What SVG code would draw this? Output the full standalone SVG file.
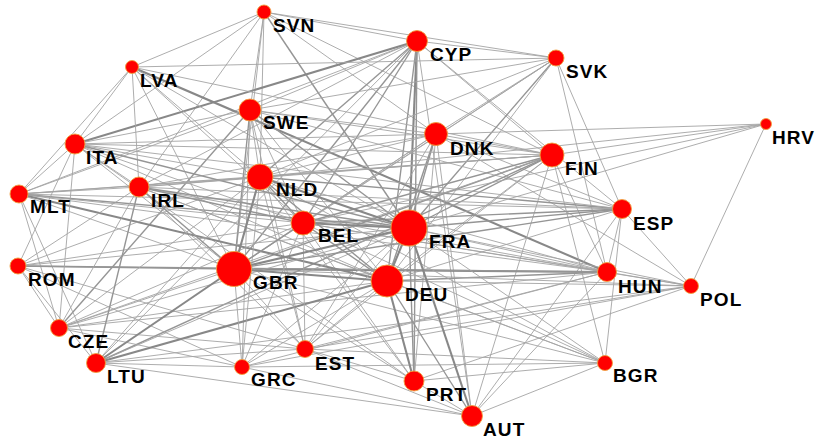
<svg xmlns="http://www.w3.org/2000/svg" width="821" height="442" viewBox="0 0 821 442">
<style>
.e1{stroke:#a4a4a4;stroke-width:0.9;fill:none}
.e2{stroke:#959595;stroke-width:1.4;fill:none}
.e3{stroke:#888888;stroke-width:2.1;fill:none}
.n circle{fill:#ff0000;stroke:#f0a040;stroke-width:0.9}
.n text{font-family:"Liberation Sans",Arial,sans-serif;font-weight:bold;font-size:19px;letter-spacing:1.1px;fill:#000}
</style>
<rect width="821" height="442" fill="#fff"/>
<g id="connectors">
<line class="e1" x1="264" y1="12" x2="417" y2="41"/>
<line class="e1" x1="264" y1="12" x2="556" y2="58"/>
<line class="e1" x1="264" y1="12" x2="552" y2="155"/>
<line class="e1" x1="264" y1="12" x2="436" y2="134"/>
<line class="e2" x1="264" y1="12" x2="409" y2="228"/>
<line class="e1" x1="264" y1="12" x2="260" y2="177"/>
<line class="e1" x1="264" y1="12" x2="250" y2="110"/>
<line class="e1" x1="264" y1="12" x2="234" y2="269"/>
<line class="e1" x1="264" y1="12" x2="132" y2="67"/>
<line class="e1" x1="264" y1="12" x2="75" y2="144"/>
<line class="e1" x1="264" y1="12" x2="139" y2="187"/>
<line class="e1" x1="417" y1="41" x2="556" y2="58"/>
<line class="e1" x1="417" y1="41" x2="250" y2="110"/>
<line class="e3" x1="417" y1="41" x2="75" y2="144"/>
<line class="e2" x1="417" y1="41" x2="260" y2="177"/>
<line class="e1" x1="417" y1="41" x2="139" y2="187"/>
<line class="e2" x1="417" y1="41" x2="303" y2="223"/>
<line class="e2" x1="417" y1="41" x2="234" y2="269"/>
<line class="e3" x1="417" y1="41" x2="409" y2="228"/>
<line class="e2" x1="417" y1="41" x2="387" y2="281"/>
<line class="e2" x1="417" y1="41" x2="414" y2="381"/>
<line class="e1" x1="417" y1="41" x2="552" y2="155"/>
<line class="e1" x1="417" y1="41" x2="622" y2="209"/>
<line class="e1" x1="417" y1="41" x2="19" y2="194"/>
<line class="e1" x1="417" y1="41" x2="96" y2="363"/>
<line class="e1" x1="417" y1="41" x2="472" y2="416"/>
<line class="e1" x1="556" y1="58" x2="607" y2="272"/>
<line class="e1" x1="556" y1="58" x2="622" y2="209"/>
<line class="e1" x1="556" y1="58" x2="436" y2="134"/>
<line class="e2" x1="556" y1="58" x2="409" y2="228"/>
<line class="e1" x1="556" y1="58" x2="303" y2="223"/>
<line class="e1" x1="556" y1="58" x2="260" y2="177"/>
<line class="e1" x1="556" y1="58" x2="234" y2="269"/>
<line class="e1" x1="556" y1="58" x2="250" y2="110"/>
<line class="e1" x1="556" y1="58" x2="132" y2="67"/>
<line class="e1" x1="556" y1="58" x2="387" y2="281"/>
<line class="e3" x1="132" y1="67" x2="607" y2="272"/>
<line class="e1" x1="132" y1="67" x2="75" y2="144"/>
<line class="e1" x1="132" y1="67" x2="19" y2="194"/>
<line class="e1" x1="132" y1="67" x2="139" y2="187"/>
<line class="e1" x1="132" y1="67" x2="234" y2="269"/>
<line class="e1" x1="132" y1="67" x2="260" y2="177"/>
<line class="e1" x1="132" y1="67" x2="409" y2="228"/>
<line class="e1" x1="132" y1="67" x2="303" y2="223"/>
<line class="e1" x1="250" y1="110" x2="436" y2="134"/>
<line class="e1" x1="250" y1="110" x2="75" y2="144"/>
<line class="e2" x1="250" y1="110" x2="59" y2="328"/>
<line class="e1" x1="250" y1="110" x2="260" y2="177"/>
<line class="e2" x1="250" y1="110" x2="234" y2="269"/>
<line class="e2" x1="250" y1="110" x2="409" y2="228"/>
<line class="e1" x1="250" y1="110" x2="387" y2="281"/>
<line class="e1" x1="250" y1="110" x2="303" y2="223"/>
<line class="e1" x1="250" y1="110" x2="552" y2="155"/>
<line class="e1" x1="250" y1="110" x2="622" y2="209"/>
<line class="e1" x1="250" y1="110" x2="305" y2="349"/>
<line class="e1" x1="250" y1="110" x2="242" y2="367"/>
<line class="e1" x1="250" y1="110" x2="19" y2="194"/>
<line class="e1" x1="436" y1="134" x2="766" y2="124"/>
<line class="e2" x1="436" y1="134" x2="409" y2="228"/>
<line class="e2" x1="436" y1="134" x2="387" y2="281"/>
<line class="e1" x1="436" y1="134" x2="234" y2="269"/>
<line class="e1" x1="436" y1="134" x2="303" y2="223"/>
<line class="e1" x1="436" y1="134" x2="472" y2="416"/>
<line class="e1" x1="436" y1="134" x2="691" y2="286"/>
<line class="e1" x1="436" y1="134" x2="552" y2="155"/>
<line class="e1" x1="436" y1="134" x2="622" y2="209"/>
<line class="e1" x1="436" y1="134" x2="260" y2="177"/>
<line class="e1" x1="436" y1="134" x2="139" y2="187"/>
<line class="e1" x1="436" y1="134" x2="75" y2="144"/>
<line class="e1" x1="436" y1="134" x2="414" y2="381"/>
<line class="e1" x1="436" y1="134" x2="305" y2="349"/>
<line class="e2" x1="552" y1="155" x2="303" y2="223"/>
<line class="e2" x1="552" y1="155" x2="409" y2="228"/>
<line class="e2" x1="552" y1="155" x2="234" y2="269"/>
<line class="e1" x1="552" y1="155" x2="387" y2="281"/>
<line class="e1" x1="552" y1="155" x2="260" y2="177"/>
<line class="e1" x1="552" y1="155" x2="139" y2="187"/>
<line class="e1" x1="552" y1="155" x2="132" y2="67"/>
<line class="e1" x1="552" y1="155" x2="607" y2="272"/>
<line class="e1" x1="552" y1="155" x2="472" y2="416"/>
<line class="e1" x1="552" y1="155" x2="605" y2="363"/>
<line class="e1" x1="552" y1="155" x2="766" y2="124"/>
<line class="e1" x1="552" y1="155" x2="59" y2="328"/>
<line class="e2" x1="552" y1="155" x2="96" y2="363"/>
<line class="e1" x1="552" y1="155" x2="305" y2="349"/>
<line class="e1" x1="552" y1="155" x2="75" y2="144"/>
<line class="e1" x1="552" y1="155" x2="19" y2="194"/>
<line class="e2" x1="622" y1="209" x2="409" y2="228"/>
<line class="e2" x1="622" y1="209" x2="303" y2="223"/>
<line class="e2" x1="622" y1="209" x2="260" y2="177"/>
<line class="e1" x1="622" y1="209" x2="139" y2="187"/>
<line class="e2" x1="622" y1="209" x2="234" y2="269"/>
<line class="e1" x1="622" y1="209" x2="19" y2="194"/>
<line class="e1" x1="622" y1="209" x2="387" y2="281"/>
<line class="e1" x1="622" y1="209" x2="472" y2="416"/>
<line class="e1" x1="622" y1="209" x2="605" y2="363"/>
<line class="e1" x1="622" y1="209" x2="691" y2="286"/>
<line class="e1" x1="622" y1="209" x2="607" y2="272"/>
<line class="e1" x1="622" y1="209" x2="75" y2="144"/>
<line class="e1" x1="766" y1="124" x2="260" y2="177"/>
<line class="e1" x1="766" y1="124" x2="303" y2="223"/>
<line class="e1" x1="766" y1="124" x2="409" y2="228"/>
<line class="e1" x1="766" y1="124" x2="691" y2="286"/>
<line class="e3" x1="607" y1="272" x2="234" y2="269"/>
<line class="e2" x1="607" y1="272" x2="387" y2="281"/>
<line class="e2" x1="607" y1="272" x2="18" y2="266"/>
<line class="e1" x1="607" y1="272" x2="260" y2="177"/>
<line class="e1" x1="607" y1="272" x2="409" y2="228"/>
<line class="e1" x1="607" y1="272" x2="303" y2="223"/>
<line class="e1" x1="607" y1="272" x2="139" y2="187"/>
<line class="e1" x1="607" y1="272" x2="242" y2="367"/>
<line class="e1" x1="607" y1="272" x2="305" y2="349"/>
<line class="e1" x1="607" y1="272" x2="691" y2="286"/>
<line class="e1" x1="607" y1="272" x2="472" y2="416"/>
<line class="e1" x1="607" y1="272" x2="59" y2="328"/>
<line class="e1" x1="607" y1="272" x2="19" y2="194"/>
<line class="e1" x1="691" y1="286" x2="409" y2="228"/>
<line class="e1" x1="691" y1="286" x2="303" y2="223"/>
<line class="e1" x1="691" y1="286" x2="234" y2="269"/>
<line class="e1" x1="691" y1="286" x2="387" y2="281"/>
<line class="e1" x1="691" y1="286" x2="305" y2="349"/>
<line class="e1" x1="691" y1="286" x2="414" y2="381"/>
<line class="e1" x1="691" y1="286" x2="242" y2="367"/>
<line class="e1" x1="691" y1="286" x2="96" y2="363"/>
<line class="e1" x1="605" y1="363" x2="409" y2="228"/>
<line class="e1" x1="605" y1="363" x2="387" y2="281"/>
<line class="e1" x1="605" y1="363" x2="303" y2="223"/>
<line class="e1" x1="605" y1="363" x2="234" y2="269"/>
<line class="e1" x1="605" y1="363" x2="260" y2="177"/>
<line class="e1" x1="605" y1="363" x2="139" y2="187"/>
<line class="e1" x1="605" y1="363" x2="305" y2="349"/>
<line class="e1" x1="605" y1="363" x2="242" y2="367"/>
<line class="e1" x1="605" y1="363" x2="414" y2="381"/>
<line class="e1" x1="605" y1="363" x2="472" y2="416"/>
<line class="e3" x1="472" y1="416" x2="409" y2="228"/>
<line class="e2" x1="472" y1="416" x2="387" y2="281"/>
<line class="e1" x1="472" y1="416" x2="242" y2="367"/>
<line class="e1" x1="472" y1="416" x2="305" y2="349"/>
<line class="e1" x1="472" y1="416" x2="96" y2="363"/>
<line class="e1" x1="472" y1="416" x2="414" y2="381"/>
<line class="e3" x1="414" y1="381" x2="387" y2="281"/>
<line class="e2" x1="414" y1="381" x2="409" y2="228"/>
<line class="e1" x1="414" y1="381" x2="303" y2="223"/>
<line class="e1" x1="414" y1="381" x2="260" y2="177"/>
<line class="e1" x1="414" y1="381" x2="234" y2="269"/>
<line class="e1" x1="414" y1="381" x2="305" y2="349"/>
<line class="e1" x1="414" y1="381" x2="75" y2="144"/>
<line class="e1" x1="19" y1="194" x2="75" y2="144"/>
<line class="e3" x1="19" y1="194" x2="387" y2="281"/>
<line class="e2" x1="19" y1="194" x2="409" y2="228"/>
<line class="e1" x1="19" y1="194" x2="303" y2="223"/>
<line class="e1" x1="19" y1="194" x2="59" y2="328"/>
<line class="e1" x1="19" y1="194" x2="96" y2="363"/>
<line class="e1" x1="19" y1="194" x2="260" y2="177"/>
<line class="e1" x1="19" y1="194" x2="234" y2="269"/>
<line class="e1" x1="19" y1="194" x2="139" y2="187"/>
<line class="e1" x1="18" y1="266" x2="75" y2="144"/>
<line class="e1" x1="18" y1="266" x2="139" y2="187"/>
<line class="e2" x1="18" y1="266" x2="234" y2="269"/>
<line class="e1" x1="18" y1="266" x2="260" y2="177"/>
<line class="e1" x1="18" y1="266" x2="303" y2="223"/>
<line class="e1" x1="18" y1="266" x2="409" y2="228"/>
<line class="e1" x1="18" y1="266" x2="59" y2="328"/>
<line class="e1" x1="18" y1="266" x2="96" y2="363"/>
<line class="e1" x1="18" y1="266" x2="305" y2="349"/>
<line class="e1" x1="18" y1="266" x2="242" y2="367"/>
<line class="e1" x1="59" y1="328" x2="75" y2="144"/>
<line class="e1" x1="59" y1="328" x2="139" y2="187"/>
<line class="e1" x1="59" y1="328" x2="234" y2="269"/>
<line class="e1" x1="59" y1="328" x2="260" y2="177"/>
<line class="e1" x1="59" y1="328" x2="303" y2="223"/>
<line class="e1" x1="59" y1="328" x2="409" y2="228"/>
<line class="e1" x1="59" y1="328" x2="387" y2="281"/>
<line class="e1" x1="59" y1="328" x2="242" y2="367"/>
<line class="e1" x1="59" y1="328" x2="305" y2="349"/>
<line class="e3" x1="96" y1="363" x2="387" y2="281"/>
<line class="e3" x1="96" y1="363" x2="234" y2="269"/>
<line class="e2" x1="96" y1="363" x2="139" y2="187"/>
<line class="e1" x1="96" y1="363" x2="242" y2="367"/>
<line class="e1" x1="96" y1="363" x2="305" y2="349"/>
<line class="e1" x1="96" y1="363" x2="260" y2="177"/>
<line class="e1" x1="96" y1="363" x2="409" y2="228"/>
<line class="e1" x1="242" y1="367" x2="234" y2="269"/>
<line class="e1" x1="242" y1="367" x2="260" y2="177"/>
<line class="e1" x1="242" y1="367" x2="409" y2="228"/>
<line class="e1" x1="242" y1="367" x2="387" y2="281"/>
<line class="e1" x1="242" y1="367" x2="303" y2="223"/>
<line class="e1" x1="305" y1="349" x2="234" y2="269"/>
<line class="e1" x1="305" y1="349" x2="260" y2="177"/>
<line class="e1" x1="305" y1="349" x2="303" y2="223"/>
<line class="e1" x1="305" y1="349" x2="409" y2="228"/>
<line class="e1" x1="305" y1="349" x2="387" y2="281"/>
<line class="e1" x1="305" y1="349" x2="139" y2="187"/>
<line class="e1" x1="75" y1="144" x2="139" y2="187"/>
<line class="e1" x1="75" y1="144" x2="260" y2="177"/>
<line class="e1" x1="75" y1="144" x2="303" y2="223"/>
<line class="e2" x1="75" y1="144" x2="409" y2="228"/>
<line class="e1" x1="75" y1="144" x2="234" y2="269"/>
<line class="e1" x1="75" y1="144" x2="387" y2="281"/>
<line class="e1" x1="139" y1="187" x2="260" y2="177"/>
<line class="e2" x1="139" y1="187" x2="303" y2="223"/>
<line class="e2" x1="139" y1="187" x2="409" y2="228"/>
<line class="e2" x1="139" y1="187" x2="234" y2="269"/>
<line class="e1" x1="139" y1="187" x2="387" y2="281"/>
<line class="e2" x1="260" y1="177" x2="303" y2="223"/>
<line class="e3" x1="260" y1="177" x2="409" y2="228"/>
<line class="e3" x1="260" y1="177" x2="234" y2="269"/>
<line class="e2" x1="260" y1="177" x2="387" y2="281"/>
<line class="e3" x1="303" y1="223" x2="409" y2="228"/>
<line class="e2" x1="303" y1="223" x2="234" y2="269"/>
<line class="e2" x1="303" y1="223" x2="387" y2="281"/>
<line class="e3" x1="409" y1="228" x2="234" y2="269"/>
<line class="e3" x1="409" y1="228" x2="387" y2="281"/>
<line class="e3" x1="234" y1="269" x2="387" y2="281"/>
</g>
<g id="node-SVN" class="n"><circle cx="264" cy="12" r="7"/><text x="273" y="32">SVN</text></g>
<g id="node-CYP" class="n"><circle cx="417" cy="41" r="10.5"/><text x="430" y="61">CYP</text></g>
<g id="node-SVK" class="n"><circle cx="556" cy="58" r="8"/><text x="566" y="78">SVK</text></g>
<g id="node-LVA" class="n"><circle cx="132" cy="67" r="6.5"/><text x="140" y="87">LVA</text></g>
<g id="node-SWE" class="n"><circle cx="250" cy="110" r="11"/><text x="263" y="129">SWE</text></g>
<g id="node-DNK" class="n"><circle cx="436" cy="134" r="11.5"/><text x="450" y="155">DNK</text></g>
<g id="node-HRV" class="n"><circle cx="766" cy="124" r="5.5"/><text x="772" y="144">HRV</text></g>
<g id="node-ITA" class="n"><circle cx="75" cy="144" r="10"/><text x="86" y="164">ITA</text></g>
<g id="node-FIN" class="n"><circle cx="552" cy="155" r="12"/><text x="565" y="175">FIN</text></g>
<g id="node-NLD" class="n"><circle cx="260" cy="177" r="13"/><text x="276" y="196">NLD</text></g>
<g id="node-IRL" class="n"><circle cx="139" cy="187" r="10"/><text x="151" y="207">IRL</text></g>
<g id="node-MLT" class="n"><circle cx="19" cy="194" r="9"/><text x="30" y="213">MLT</text></g>
<g id="node-ESP" class="n"><circle cx="622" cy="209" r="9.5"/><text x="633" y="230">ESP</text></g>
<g id="node-BEL" class="n"><circle cx="303" cy="223" r="12"/><text x="318" y="242">BEL</text></g>
<g id="node-FRA" class="n"><circle cx="409" cy="228" r="18"/><text x="429" y="248">FRA</text></g>
<g id="node-ROM" class="n"><circle cx="18" cy="266" r="8"/><text x="28" y="286">ROM</text></g>
<g id="node-GBR" class="n"><circle cx="234" cy="269" r="17.5"/><text x="253" y="289">GBR</text></g>
<g id="node-DEU" class="n"><circle cx="387" cy="281" r="16"/><text x="405" y="301">DEU</text></g>
<g id="node-HUN" class="n"><circle cx="607" cy="272" r="9.5"/><text x="618" y="293">HUN</text></g>
<g id="node-POL" class="n"><circle cx="691" cy="286" r="7.5"/><text x="700" y="306">POL</text></g>
<g id="node-CZE" class="n"><circle cx="59" cy="328" r="8.5"/><text x="68" y="348">CZE</text></g>
<g id="node-EST" class="n"><circle cx="305" cy="349" r="8.5"/><text x="315" y="370">EST</text></g>
<g id="node-LTU" class="n"><circle cx="96" cy="363" r="9.5"/><text x="107" y="383">LTU</text></g>
<g id="node-GRC" class="n"><circle cx="242" cy="367" r="7.5"/><text x="251" y="386">GRC</text></g>
<g id="node-BGR" class="n"><circle cx="605" cy="363" r="7.5"/><text x="613" y="382">BGR</text></g>
<g id="node-PRT" class="n"><circle cx="414" cy="381" r="10"/><text x="426" y="401">PRT</text></g>
<g id="node-AUT" class="n"><circle cx="472" cy="416" r="10.5"/><text x="483" y="436">AUT</text></g>
</svg>
